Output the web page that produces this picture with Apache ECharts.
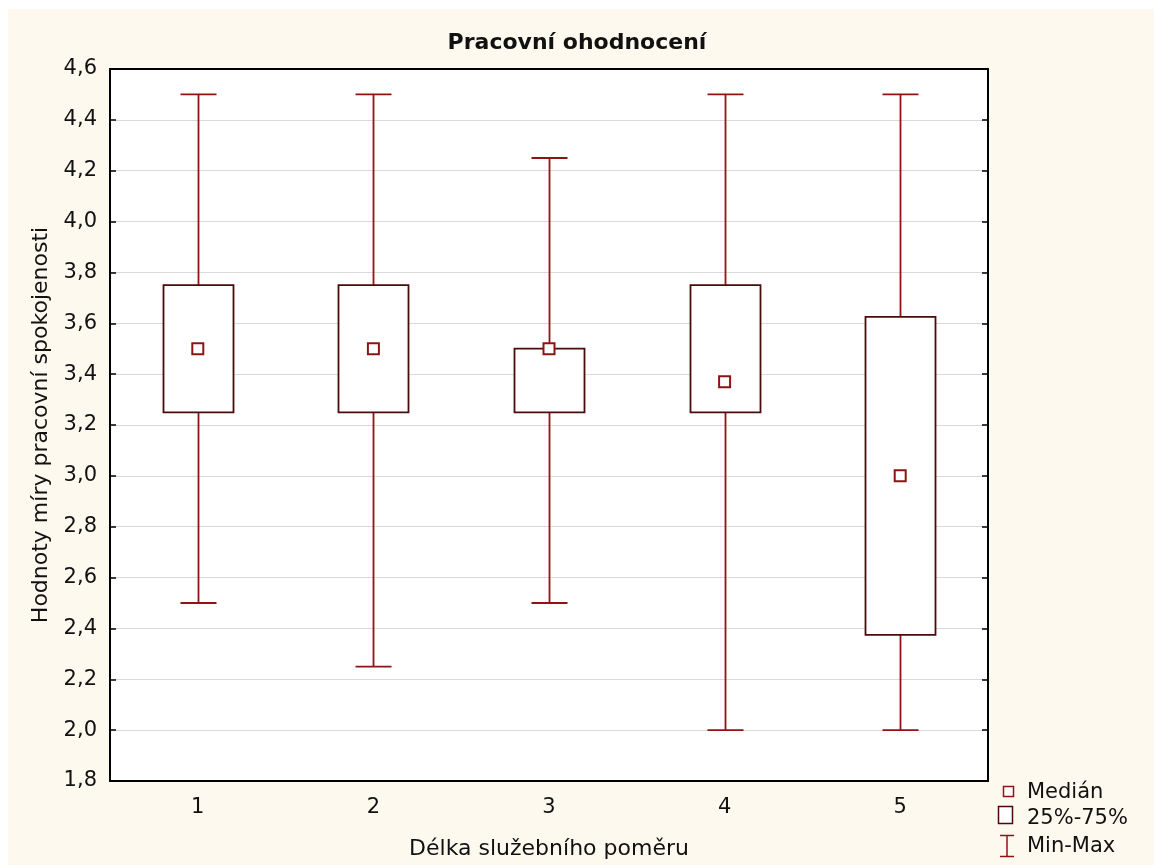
<!DOCTYPE html>
<html>
<head>
<meta charset="utf-8">
<title>Pracovní ohodnocení</title>
<script src="https://cdn.jsdelivr.net/npm/echarts@6/dist/echarts.min.js"></script>
<style>
  html, body { margin: 0; padding: 0; background: #ffffff; }
  #chart { width: 1154px; height: 865px; }
</style>
</head>
<body>
<div id="chart"></div>
<script>
// Length of service groups and the work-satisfaction summary per group
const categories = ['1', '2', '3', '4', '5'];
const minValues    = [2.5,  2.25, 2.5,  2.0,   2.0];
const q1Values     = [3.25, 3.25, 3.25, 3.25,  2.375];
const medianValues = [3.5,  3.5,  3.5,  3.37,  3.0];
const q3Values     = [3.75, 3.75, 3.5,  3.75,  3.625];
const maxValues    = [4.5,  4.5,  4.25, 4.5,   4.5];
const legendLabels = ['Medián', '25%-75%', 'Min-Max'];

const WHISKER = '#8e1414';
const BOX = '#4a0b0b';
const CREAM = '#fef9ef';
const FONT = '"DejaVu Sans", "Liberation Sans", Arial, sans-serif';

const rangeData = categories.map((c, i) => [i, minValues[i], q1Values[i], q3Values[i], maxValues[i]]);
const boxData = categories.map((c, i) => [i, q1Values[i], q3Values[i]]);
const medianData = categories.map((c, i) => [i, medianValues[i]]);

const chart = echarts.init(document.getElementById('chart'), null, { renderer: 'canvas' });

const commaFmt = v => v.toFixed(1).replace('.', ',');

const option = {
  backgroundColor: '#ffffff',
  animation: false,
  title: {
    text: 'Pracovní ohodnocení',
    left: 'center',
    top: 27,
    textStyle: { fontFamily: FONT, fontSize: 22, fontWeight: 'bold', color: '#111' }
  },
  graphic: [
    { type: 'rect', z: -10, silent: true, shape: { x: 8, y: 9, width: 1146, height: 856 }, style: { fill: CREAM } },
    // legend key
    { type: 'rect', z: 10, shape: { x: 1003.5, y: 786.5, width: 10, height: 10 }, style: { fill: '#fff', stroke: WHISKER, lineWidth: 1.5 } },
    { type: 'rect', z: 10, shape: { x: 998.5, y: 806.5, width: 14, height: 17 }, style: { fill: '#fff', stroke: BOX, lineWidth: 1.5 } },
    { type: 'polyline', z: 10, shape: { points: [[1000, 835.5], [1014, 835.5]] }, style: { stroke: WHISKER, lineWidth: 1.5, fill: null } },
    { type: 'polyline', z: 10, shape: { points: [[1007, 835.5], [1007, 856.5]] }, style: { stroke: WHISKER, lineWidth: 1.5, fill: null } },
    { type: 'polyline', z: 10, shape: { points: [[1000, 856.5], [1014, 856.5]] }, style: { stroke: WHISKER, lineWidth: 1.5, fill: null } },
    { type: 'text', z: 10, style: { x: 1027, y: 793, text: legendLabels[0], fill: '#111', font: '21px ' + FONT, textVerticalAlign: 'middle' } },
    { type: 'text', z: 10, style: { x: 1027, y: 819, text: legendLabels[1], fill: '#111', font: '21px ' + FONT, textVerticalAlign: 'middle' } },
    { type: 'text', z: 10, style: { x: 1027, y: 847, text: legendLabels[2], fill: '#111', font: '21px ' + FONT, textVerticalAlign: 'middle' } }
  ],
  grid: {
    left: 110, right: 166, top: 69, bottom: 84,
    show: true, backgroundColor: '#ffffff', borderWidth: 0
  },
  xAxis: [
    {
      type: 'category',
      data: categories,
      position: 'bottom',
      boundaryGap: true,
      name: 'Délka služebního poměru',
      nameLocation: 'middle',
      nameGap: 57,
      nameTextStyle: { fontFamily: FONT, fontSize: 22, color: '#111' },
      axisLine: { lineStyle: { color: '#000', width: 2 } },
      axisTick: { inside: true, alignWithLabel: true, length: 6, lineStyle: { color: '#000', width: 1.5 } },
      axisLabel: { fontFamily: FONT, fontSize: 21, color: '#111', margin: 16 },
      splitLine: { show: false }
    },
    {
      type: 'category',
      data: categories,
      position: 'top',
      boundaryGap: true,
      axisLine: { lineStyle: { color: '#000', width: 2 } },
      axisTick: { inside: true, alignWithLabel: true, length: 6, lineStyle: { color: '#000', width: 1.5 } },
      axisLabel: { show: false },
      splitLine: { show: false }
    }
  ],
  yAxis: [
    {
      type: 'value',
      min: 1.8, max: 4.6, interval: 0.2,
      position: 'left',
      name: 'Hodnoty míry pracovní spokojenosti',
      nameLocation: 'middle',
      nameGap: 57,
      nameTextStyle: { fontFamily: FONT, fontSize: 22, color: '#111' },
      axisLine: { show: true, lineStyle: { color: '#000', width: 2 } },
      axisTick: { show: true, inside: true, length: 6, lineStyle: { color: '#000', width: 1.5 } },
      axisLabel: { fontFamily: FONT, fontSize: 21, color: '#111', margin: 13, formatter: commaFmt },
      splitLine: { show: true, lineStyle: { color: '#d9d9d9', width: 1 } }
    },
    {
      type: 'value',
      min: 1.8, max: 4.6, interval: 0.2,
      position: 'right',
      axisLine: { show: true, lineStyle: { color: '#000', width: 2 } },
      axisTick: { show: true, inside: true, length: 6, lineStyle: { color: '#000', width: 1.5 } },
      axisLabel: { show: false },
      splitLine: { show: false }
    }
  ],
  series: [
    {
      name: 'Min-Max',
      type: 'custom',
      xAxisIndex: 0, yAxisIndex: 0,
      z: 2,
      data: rangeData,
      encode: { x: 0, y: [1, 2, 3, 4] },
      renderItem: function (params, api) {
        const i = api.value(0);
        const pMin = api.coord([i, api.value(1)]);
        const pQ1 = api.coord([i, api.value(2)]);
        const pQ3 = api.coord([i, api.value(3)]);
        const pMax = api.coord([i, api.value(4)]);
        const x = Math.round(pMin[0]) + 0.5;
        const half = 18;
        const style = { stroke: WHISKER, lineWidth: 1.8, fill: null };
        return {
          type: 'group',
          children: [
            { type: 'line', shape: { x1: x, y1: pMin[1], x2: x, y2: pQ1[1] }, style: style },
            { type: 'line', shape: { x1: x, y1: pQ3[1], x2: x, y2: pMax[1] }, style: style },
            { type: 'line', shape: { x1: x - half, y1: pMin[1], x2: x + half, y2: pMin[1] }, style: style },
            { type: 'line', shape: { x1: x - half, y1: pMax[1], x2: x + half, y2: pMax[1] }, style: style }
          ]
        };
      }
    },
    {
      name: '25%-75%',
      type: 'custom',
      xAxisIndex: 0, yAxisIndex: 0,
      z: 3,
      data: boxData,
      encode: { x: 0, y: [1, 2] },
      renderItem: function (params, api) {
        const i = api.value(0);
        const pQ1 = api.coord([i, api.value(1)]);
        const pQ3 = api.coord([i, api.value(2)]);
        const halfW = 35;
        const x = Math.round(pQ1[0]) + 0.5;
        return {
          type: 'rect',
          shape: { x: x - halfW, y: pQ3[1], width: halfW * 2, height: pQ1[1] - pQ3[1] },
          style: { fill: '#ffffff', stroke: BOX, lineWidth: 1.8 }
        };
      }
    },
    {
      name: 'Medián',
      type: 'scatter',
      xAxisIndex: 0, yAxisIndex: 0,
      z: 4,
      data: medianData,
      symbol: 'rect',
      symbolSize: 11,
      itemStyle: { color: '#ffffff', borderColor: WHISKER, borderWidth: 2, opacity: 1 }
    }
  ]
};

chart.setOption(option);
</script>
</body>
</html>
